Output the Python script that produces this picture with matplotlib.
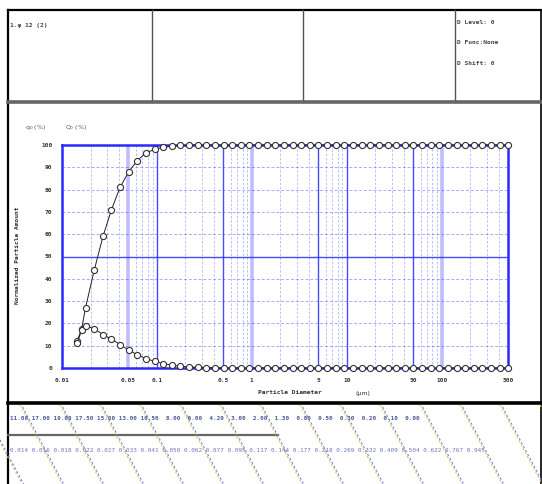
import numpy as np
import matplotlib
matplotlib.use("Agg")
import matplotlib.pyplot as plt
from matplotlib.lines import Line2D

# particle diameters (um)
diameter = [0.0144, 0.0161, 0.0177, 0.0219, 0.0270, 0.0332, 0.0409, 0.0504, 0.0622, 0.0767,
            0.0945, 0.1165, 0.1436, 0.177, 0.218, 0.269, 0.332, 0.409, 0.504, 0.622,
            0.767, 0.945, 1.165, 1.436, 1.77, 2.18, 2.69, 3.32, 4.09, 5.04,
            6.22, 7.67, 9.45, 11.65, 14.36, 17.7, 21.8, 26.9, 33.2, 40.9,
            50.4, 62.2, 76.7, 94.5, 116.5, 143.6, 177.0, 218.0, 269.0, 332.0,
            409.0, 500.0]
# frequency q0 (%)
q0 = [11, 17, 19, 17.5, 15, 13, 10.5, 8, 6, 4.2,
      3, 2, 1.3, 0.8, 0.5, 0.3, 0.2, 0.1, 0, 0,
      0, 0, 0, 0, 0, 0, 0, 0, 0, 0,
      0, 0, 0, 0, 0, 0, 0, 0, 0, 0,
      0, 0, 0, 0, 0, 0, 0, 0, 0, 0,
      0, 0]
# cumulative Q0 (%)
Q0 = [12, 17.5, 27, 44, 59, 71, 81, 88, 93, 96.5,
      98, 99, 99.5, 99.8, 100, 100, 100, 100, 100, 100,
      100, 100, 100, 100, 100, 100, 100, 100, 100, 100,
      100, 100, 100, 100, 100, 100, 100, 100, 100, 100,
      100, 100, 100, 100, 100, 100, 100, 100, 100, 100,
      100, 100]

x_ticks = [0.01, 0.05, 0.1, 0.5, 1, 5, 10, 50, 100, 500]
x_tick_labels = ["0.01", "0.05", "0.1", "0.5", "1", "5", "10", "50", "100", "500"]
y_ticks = [0, 10, 20, 30, 40, 50, 60, 70, 80, 90, 100]

W, H = 542, 484
fig = plt.figure(figsize=(W / 100, H / 100), dpi=100)
fig.patch.set_facecolor("white")


def fx(px):
    return px / W


def fy(py):
    return 1 - py / H


def fline(x0, y0, x1, y1, **kw):
    fig.add_artist(Line2D([fx(x0), fx(x1)], [fy(y0), fy(y1)], transform=fig.transFigure, **kw))


# outer frame and header cells
fline(8, 10, 542, 10, color="black", lw=1.6)
fline(8, 10, 8, 484, color="black", lw=1.6)
fline(541, 10, 541, 484, color="black", lw=1.2)
for xc in [152, 303, 455]:
    fline(xc, 10, xc, 102, color="#555555", lw=1.0)
fline(8, 101.5, 542, 101.5, color="#666666", lw=2.6)
fline(8, 403, 542, 403, color="black", lw=2.6)
fline(8, 435, 278, 435, color="#666666", lw=1.6)

fig.text(fx(10), fy(25), "1.\u03c6 12 (2)", fontsize=4.5, color="#444444",
         family="DejaVu Sans Mono", weight="bold", va="center")
for i, t in enumerate(["D Level: 0", "D Func:None", "D Shift: 0"]):
    fig.text(fx(457), fy(22 + i * 20.5), t, fontsize=4.5, color="#444444",
             family="DejaVu Sans Mono", weight="bold", va="center")

# main plot
ax = fig.add_axes([fx(62), fy(368), fx(508) - fx(62), (368 - 145) / H])
ax.set_xscale("log")
ax.set_xlim(0.01, 500)
ax.set_ylim(0, 100)

blue = "#2a2aff"
for dec in [0.01, 0.1, 1, 10, 100]:
    for m in [2, 3, 4, 6, 7, 8, 9]:
        v = dec * m
        if v < 500:
            ax.axvline(v, color=blue, lw=0.6, ls=(0, (3, 2)), alpha=0.35, zorder=1)
for v, light in [(0.05, True), (0.1, False), (0.5, False), (1, True),
                 (5, False), (10, False), (50, False), (100, True)]:
    if light:
        ax.axvline(v, color=blue, lw=2.6, alpha=0.3, zorder=1)
    else:
        ax.axvline(v, color=blue, lw=1.0, alpha=0.85, zorder=1)
for v in [10, 20, 30, 40, 60, 70, 80, 90]:
    ax.axhline(v, color=blue, lw=0.7, ls=(0, (3, 2)), alpha=0.4, zorder=1)
ax.axhline(50, color=blue, lw=1.0, alpha=0.85, zorder=1)

for s in ax.spines.values():
    s.set_color(blue)
    s.set_linewidth(1.8)

ax.plot(diameter, Q0, color="#222222", lw=0.7, marker="o", ms=4.4,
        mfc="white", mec="#333333", mew=0.8, zorder=3, clip_on=False)
ax.plot(diameter, q0, color="#222222", lw=0.7, marker="o", ms=4.4,
        mfc="white", mec="#333333", mew=0.8, zorder=3, clip_on=False)

ax.set_xticks(x_ticks)
ax.set_xticklabels(x_tick_labels)
ax.set_xticks([], minor=True)
ax.set_yticks(y_ticks)
ax.tick_params(length=0, labelsize=4.4, colors="#333333", pad=7)
for lab in ax.get_xticklabels() + ax.get_yticklabels():
    lab.set_fontweight("bold")
    lab.set_family("DejaVu Sans Mono")

fig.text(fx(18), fy(255), "Normalized Particle Amount", rotation=90, fontsize=4.5,
         ha="center", va="center", color="#333333", weight="bold", family="DejaVu Sans Mono")
fig.text(fx(25), fy(128), "q$_0$ (%)", fontsize=4.5, color="#555555", va="center")
fig.text(fx(65), fy(128), "Q$_0$ (%)", fontsize=4.5, color="#555555", va="center")
fig.text(fx(290), fy(393), "Particle Diameter", fontsize=4.5, ha="center", va="center",
         color="#333333", weight="bold", family="DejaVu Sans Mono")
fig.text(fx(356), fy(394), "(\u03bcm)", fontsize=4.5, va="center", color="#333333")

# bottom table area with hatching
for x0 in range(-20, 560, 40):
    fline(x0, 405, x0 + 42, 484, color="#e2c850", lw=0.8, ls=(0, (2, 2)))
    fline(x0 + 1.5, 405, x0 + 43.5, 484, color="#7080e0", lw=0.8, ls=(2, (2, 2)))

row1 = " ".join(f"{v:5.2f}" for v in q0[:19])
row2 = " ".join(f"{v:5.3f}" for v in diameter[:22])
fig.text(fx(10), fy(419), row1, fontsize=4.3, color="#4a5a9a", va="center",
         family="DejaVu Sans Mono", weight="bold")
fig.text(fx(10), fy(450), row2, fontsize=4.3, color="#6a78c0", va="center",
         family="DejaVu Sans Mono")

fig.savefig("out.png", dpi=100)
